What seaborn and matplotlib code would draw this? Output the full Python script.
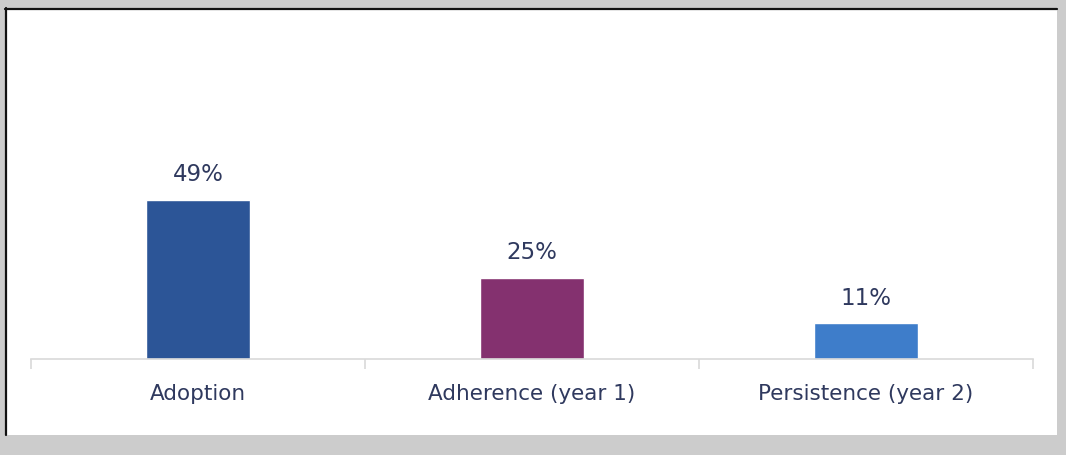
import matplotlib
matplotlib.use("Agg")
import matplotlib.pyplot as plt
from matplotlib.patches import Rectangle
from matplotlib.lines import Line2D
import seaborn as sns
import pandas as pd

categories = ["Adoption", "Adherence (year 1)", "Persistence (year 2)"]
values = [49, 25, 11]
colors = ["#2c5597", "#84316f", "#3e7dca"]

df = pd.DataFrame({"category": categories, "value": values})

sns.set_theme(style="white")
plt.rcParams["font.family"] = ["DejaVu Sans"]

W, H = 1066, 456
fig = plt.figure(figsize=(W / 100, H / 100), dpi=100)
fig.patch.set_facecolor("#cccccc")

# white panel with dark top/left edges
fig.patches.append(Rectangle((5 / W, 20 / H), 1052 / W, 427 / H,
                             transform=fig.transFigure, facecolor="white",
                             edgecolor="none", zorder=-5))
fig.lines.append(Line2D([5 / W, 1057 / W], [446 / H, 446 / H], transform=fig.transFigure,
                        color="#111111", lw=1.6, zorder=-4))
fig.lines.append(Line2D([6 / W, 6 / W], [20 / H, 447 / H], transform=fig.transFigure,
                        color="#111111", lw=1.6, zorder=-4))

ax = fig.add_axes([31 / W, 96 / H, 1002 / W, 324.5 / H])
ax.set_facecolor("none")
ax.set_zorder(5)

sns.barplot(data=df, x="category", y="value", hue="category", palette=colors,
            order=categories, hue_order=categories, legend=False, width=0.31,
            saturation=1, ax=ax)

ax.set_xlim(-0.5, 2.5)
ax.set_ylim(0, 100)
ax.set_xlabel("")
ax.set_ylabel("")
ax.set_yticks([])
for s in ["top", "right", "left"]:
    ax.spines[s].set_visible(False)
ax.spines["bottom"].set_color("#d9d9d9")
ax.spines["bottom"].set_linewidth(1.2)

text_color = "#2f395e"
ax.tick_params(axis="x", which="major", length=0, pad=17, labelsize=15.5,
               labelcolor=text_color)
ax.set_xticks(range(len(categories)), categories)
ax.set_xticks([-0.5, 0.5, 1.5, 2.5], minor=True)
ax.tick_params(axis="x", which="minor", length=7, width=1.2, color="#d9d9d9",
               direction="out", bottom=True)

for i, v in enumerate(values):
    ax.annotate(f"{v}%", (i, v), xytext=(0, 10.5), textcoords="offset points",
                ha="center", va="bottom", fontsize=16.5, color=text_color)

fig.savefig("out.png", dpi=100, facecolor=fig.get_facecolor())
